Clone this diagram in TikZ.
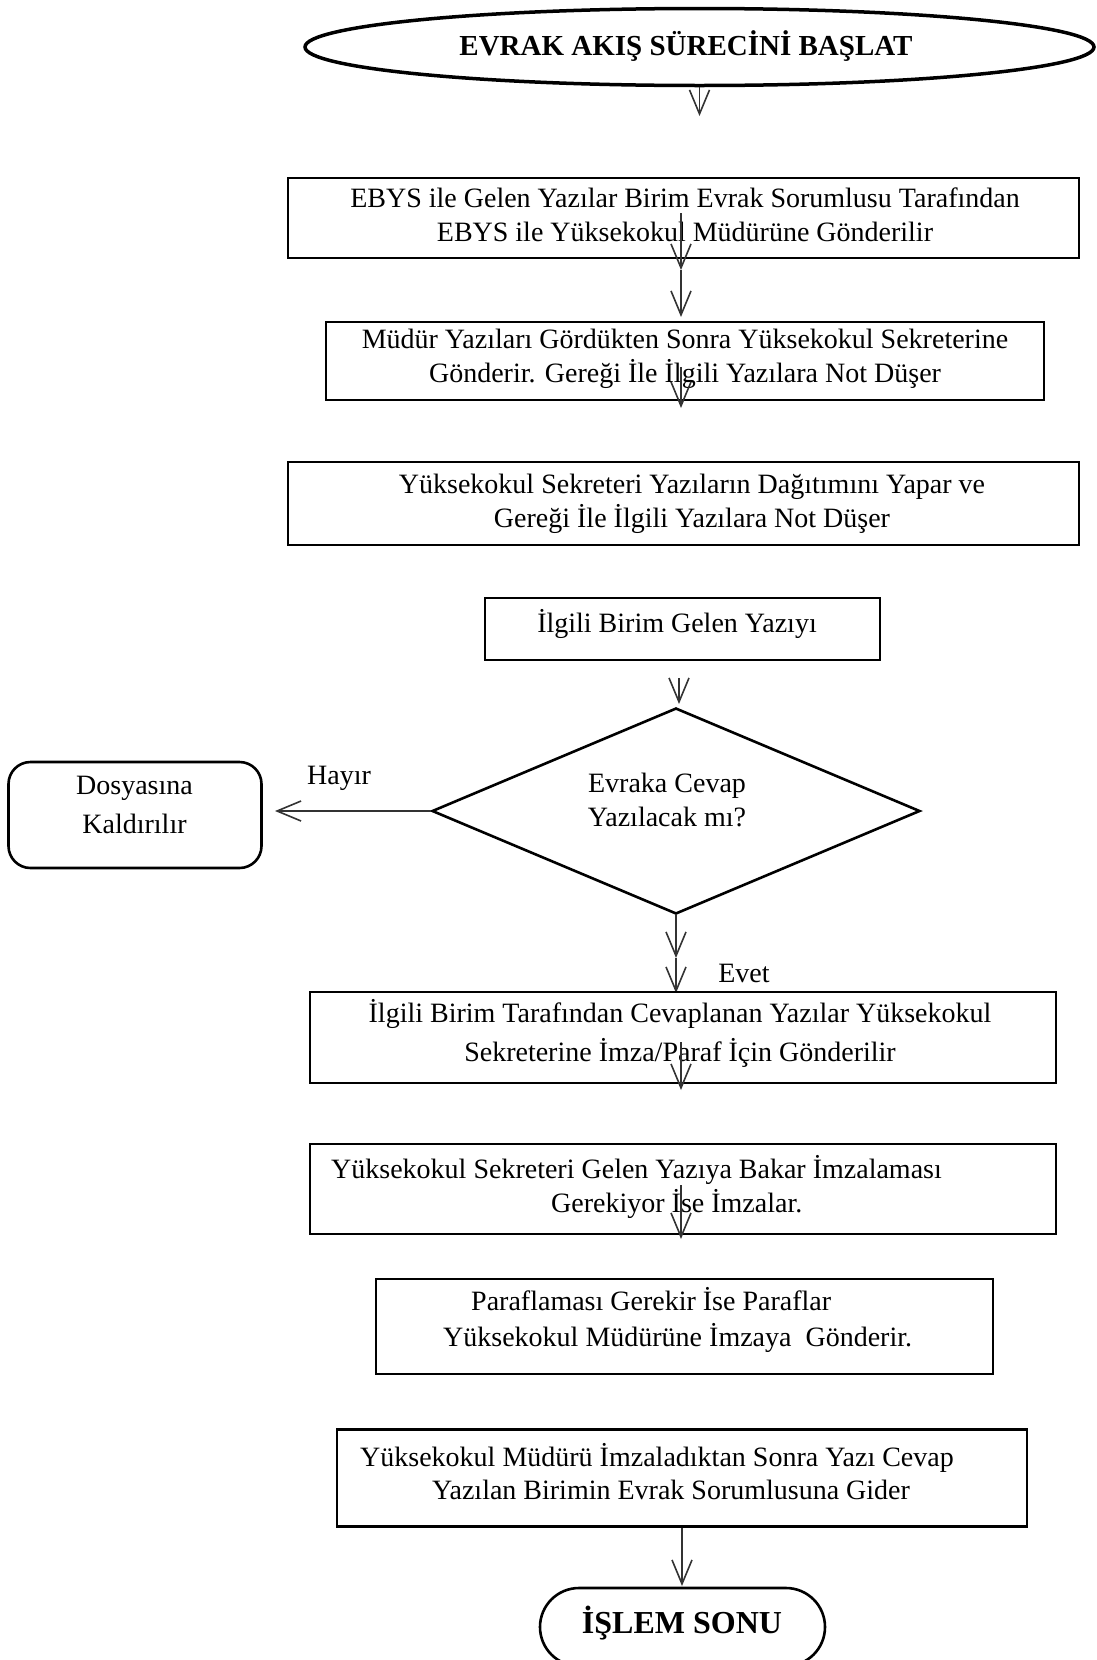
\documentclass[tikz,border=0pt]{standalone}
\usepackage{fontspec}
\setmainfont{Liberation Serif}
\usetikzlibrary{arrows.meta,shapes.geometric,shapes.misc}
\begin{document}
\begin{tikzpicture}[x=1pt,y=-1pt,
  box/.style={draw, line width=2.6pt, inner sep=0pt},
  txt/.style={inner sep=0pt, font=\fontsize{28}{34}\selectfont, align=center},
  ltxt/.style={inner sep=0pt, font=\fontsize{28}{34}\selectfont, anchor=base west},
  arr/.style={draw=black!80, line width=1.6pt, -{Straight Barb[length=24pt,width=20pt,line width=1.6pt]}},
]
\useasboundingbox (0,0) rectangle (1097,1660);

% start
\node[box, ellipse, line width=3.5pt, minimum width=789pt, minimum height=77pt] (start) at (699.5,47) {};
\node[txt, font=\fontsize{29}{34}\selectfont\bfseries] (starttext) at (686,46) {EVRAK AKIŞ SÜRECİNİ BAŞLAT};
\coordinate (a1) at (699.5,116);
\draw[arr] (start.south) -- (a1);

% box 1
\node[box, minimum width=791pt, minimum height=80pt] (b1) at (683.5,218) {};
\node[txt] (t1) at (685,215) {EBYS ile Gelen Yazılar Birim Evrak Sorumlusu Tarafından\\EBYS ile Yüksekokul Müdürüne Gönderilir};
\coordinate (c2a) at (681,213);
\coordinate (c2b) at (681,270);
\coordinate (c2c) at (681,317);
\draw[arr] (c2a) -- (c2b);
\draw[arr] (c2b) -- (c2c);

% box 2
\node[box, minimum width=718pt, minimum height=78pt] (b2) at (685,361) {};
\node[txt] (t2) at (685,359) {Müdür Yazıları Gördükten Sonra Yüksekokul Sekreterine\\Gönderir. Gereği İle İlgili Yazılara Not Düşer};
\coordinate (c3a) at (681,367);
\coordinate (c3b) at (681,408);
\draw[arr] (c3a) -- (c3b);

% box 3
\node[box, minimum width=791pt, minimum height=83pt] (b3) at (683.5,503.5) {};
\node[txt] (t3) at (692,504) {Yüksekokul Sekreteri Yazıların Dağıtımını Yapar ve\\Gereği İle İlgili Yazılara Not Düşer};

% box 4
\node[box, minimum width=395pt, minimum height=62pt] (b4) at (682.5,629) {};
\node[txt] (t4) at (677,624) {İlgili Birim Gelen Yazıyı};
\coordinate (c4a) at (679,678);
\coordinate (c4b) at (679,704);
\draw[arr] (c4a) -- (c4b);

% decision
\node[box, diamond, minimum width=488pt, minimum height=206pt] (dia) at (676,811) {};
\node[txt] (tdia) at (667,800) {Evraka Cevap\\Yazılacak mı?};
\coordinate (ch) at (275,811);
\draw[arr] (dia.west) -- (ch);
\node[txt] (hayir) at (339,778) {Hayır};

% file
\node[box, rounded corners=22pt, minimum width=253pt, minimum height=106pt] (dos) at (135,815) {};
\node[txt, font=\fontsize{28}{39}\selectfont] (tdos) at (134.5,804.5) {Dosyasına\\Kaldırılır};

% yes
\coordinate (e1) at (676,958);
\coordinate (e2) at (676,993);
\draw[arr] (dia.south) -- (e1);
\draw[arr] (e1) -- (e2);
\node[txt] (evet) at (744,973) {Evet};

% box 5
\node[box, minimum width=746pt, minimum height=91pt] (b5) at (683,1037.5) {};
\node[txt, font=\fontsize{28}{39}\selectfont] (t5) at (680,1033) {İlgili Birim Tarafından Cevaplanan Yazılar Yüksekokul\\Sekreterine İmza/Paraf İçin Gönderilir};
\coordinate (c5a) at (681,1042);
\coordinate (c5b) at (681,1090);
\draw[arr] (c5a) -- (c5b);

% box 6
\node[box, minimum width=746pt, minimum height=90pt] (b6) at (683,1189) {};
\node[ltxt] (t6a) at (331,1178) {Yüksekokul Sekreteri Gelen Yazıya Bakar İmzalaması};
\node[ltxt] (t6b) at (551,1212) {Gerekiyor İse İmzalar.};
\coordinate (c6a) at (681,1185);
\coordinate (c6b) at (681,1239);
\draw[arr] (c6a) -- (c6b);

% box 7
\node[box, minimum width=617pt, minimum height=95pt] (b7) at (684.5,1326.5) {};
\node[ltxt] (t7a) at (471,1310) {Paraflaması Gerekir İse Paraflar};
\node[ltxt] (t7b) at (443,1346) {Yüksekokul Müdürüne İmzaya\ \ Gönderir.};

% box 8
\node[box, minimum width=690pt, minimum height=97.5pt] (b8) at (682,1478) {};
\node[ltxt] (t8a) at (360,1466) {Yüksekokul Müdürü İmzaladıktan Sonra Yazı Cevap};
\node[ltxt] (t8b) at (432,1499) {Yazılan Birimin Evrak Sorumlusuna Gider};
\coordinate (c8) at (682,1586);
\draw[arr] (b8.south) -- (c8);

% end
\node[box, rounded rectangle, minimum width=285pt, minimum height=78pt] (end) at (682.5,1627) {};
\node[txt, font=\fontsize{32}{36}\selectfont\bfseries] (tend) at (682,1623) {İŞLEM SONU};
\end{tikzpicture}
\end{document}
